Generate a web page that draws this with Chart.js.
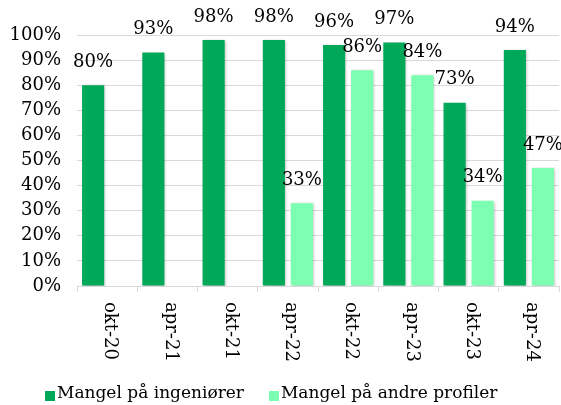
<!DOCTYPE html>
<html>
<head>
<meta charset="utf-8">
<script src="https://cdn.jsdelivr.net/npm/chart.js@4"></script>
<style>
html,body{margin:0;padding:0;background:#fff;}
#wrap{width:561px;height:405px;}
</style>
</head>
<body>
<div id="wrap"><canvas id="c" width="561" height="405"></canvas></div>
<script>
const categories = ['okt-20','apr-21','okt-21','apr-22','okt-22','apr-23','okt-23','apr-24'];
const engineers = [80, 93, 98, 98, 96, 97, 73, 94];
const otherProfiles = [null, null, null, 33, 86, 84, 34, 47];
const seriesNames = ['Mangel på ingeniører', 'Mangel på andre profiler'];
const yTicks = [0,10,20,30,40,50,60,70,80,90,100];

const FONT = '"DejaVu Serif", serif';
const FSIZE = 17;
const LSIZE = 18;
const DARK = '#00A85A';
const LIGHT = '#7DFFB1';

const shadowPlugin = {
  id: 'barShadow',
  beforeDatasetDraw(chart) {
    const ctx = chart.ctx;
    ctx.save();
    ctx.shadowColor = 'rgba(0,0,0,0.28)';
    ctx.shadowBlur = 3;
    ctx.shadowOffsetX = 1;
    ctx.shadowOffsetY = 1;
  },
  afterDatasetDraw(chart) {
    chart.ctx.restore();
  }
};

const labelPlugin = {
  id: 'valueLabels',
  afterDatasetsDraw(chart) {
    const ctx = chart.ctx;
    ctx.save();
    ctx.font = LSIZE + 'px ' + FONT;
    ctx.fillStyle = '#000';
    ctx.textAlign = 'center';
    ctx.textBaseline = 'middle';
    chart.data.datasets.forEach((ds, di) => {
      const meta = chart.getDatasetMeta(di);
      meta.data.forEach((bar, i) => {
        const v = ds.data[i];
        if (v === null || v === undefined) return;
        ctx.fillText(v + '%', bar.x, bar.y - 23);
      });
    });
    ctx.restore();
  }
};

const xLabelPlugin = {
  id: 'xLabels',
  afterDraw(chart) {
    const ctx = chart.ctx;
    const xs = chart.scales.x;
    ctx.save();
    ctx.font = LSIZE + 'px ' + FONT;
    ctx.fillStyle = '#000';
    ctx.textAlign = 'left';
    ctx.textBaseline = 'middle';
    categories.forEach((lab, i) => {
      const x = xs.getPixelForTick(i) + 3;
      const y = xs.top + 16;
      ctx.save();
      ctx.translate(x, y);
      ctx.rotate(Math.PI / 2);
      ctx.fillText(lab, 0, 0);
      ctx.restore();
    });
    ctx.restore();
  }
};

const legendPlugin = {
  id: 'customLegend',
  afterDraw(chart) {
    const ctx = chart.ctx;
    ctx.save();
    ctx.font = FSIZE + 'px ' + FONT;
    ctx.textBaseline = 'middle';
    ctx.textAlign = 'left';
    let x = 45;
    const yc = 394;
    chart.data.datasets.forEach((ds) => {
      ctx.fillStyle = ds.backgroundColor;
      ctx.fillRect(x, yc - 3, 10, 10);
      ctx.fillStyle = '#000';
      ctx.fillText(ds.label, x + 12, yc);
      x += 12 + ctx.measureText(ds.label).width + 25;
    });
    ctx.restore();
  }
};

new Chart(document.getElementById('c'), {
  type: 'bar',
  data: {
    labels: categories,
    datasets: [
      { label: seriesNames[0], data: engineers, backgroundColor: DARK, categoryPercentage: 0.93, barPercentage: 0.79 },
      { label: seriesNames[1], data: otherProfiles, backgroundColor: LIGHT, categoryPercentage: 0.93, barPercentage: 0.79 }
    ]
  },
  options: {
    responsive: false,
    animation: false,
    devicePixelRatio: 1,
    layout: { padding: { top: 35, right: 2, left: 0, bottom: 0 } },
    plugins: {
      legend: { display: false },
      tooltip: { enabled: false }
    },
    scales: {
      x: {
        grid: { drawOnChartArea: false, drawTicks: true, tickLength: 6, offset: true, color: '#d9d9d9' },
        border: { color: '#d9d9d9' },
        ticks: { display: false },
        afterFit(scale) { scale.height = 119; }
      },
      y: {
        min: 0, max: 100,
        afterBuildTicks(scale) { scale.ticks = yTicks.map(v => ({ value: v })); },
        grid: { color: '#d9d9d9', drawTicks: false },
        border: { display: false },
        ticks: {
          padding: 16,
          color: '#000',
          font: { family: FONT, size: LSIZE },
          callback: v => v + '%'
        },
        afterFit(scale) { scale.width = 77; }
      }
    }
  },
  plugins: [shadowPlugin, labelPlugin, xLabelPlugin, legendPlugin]
});
</script>
</body>
</html>
